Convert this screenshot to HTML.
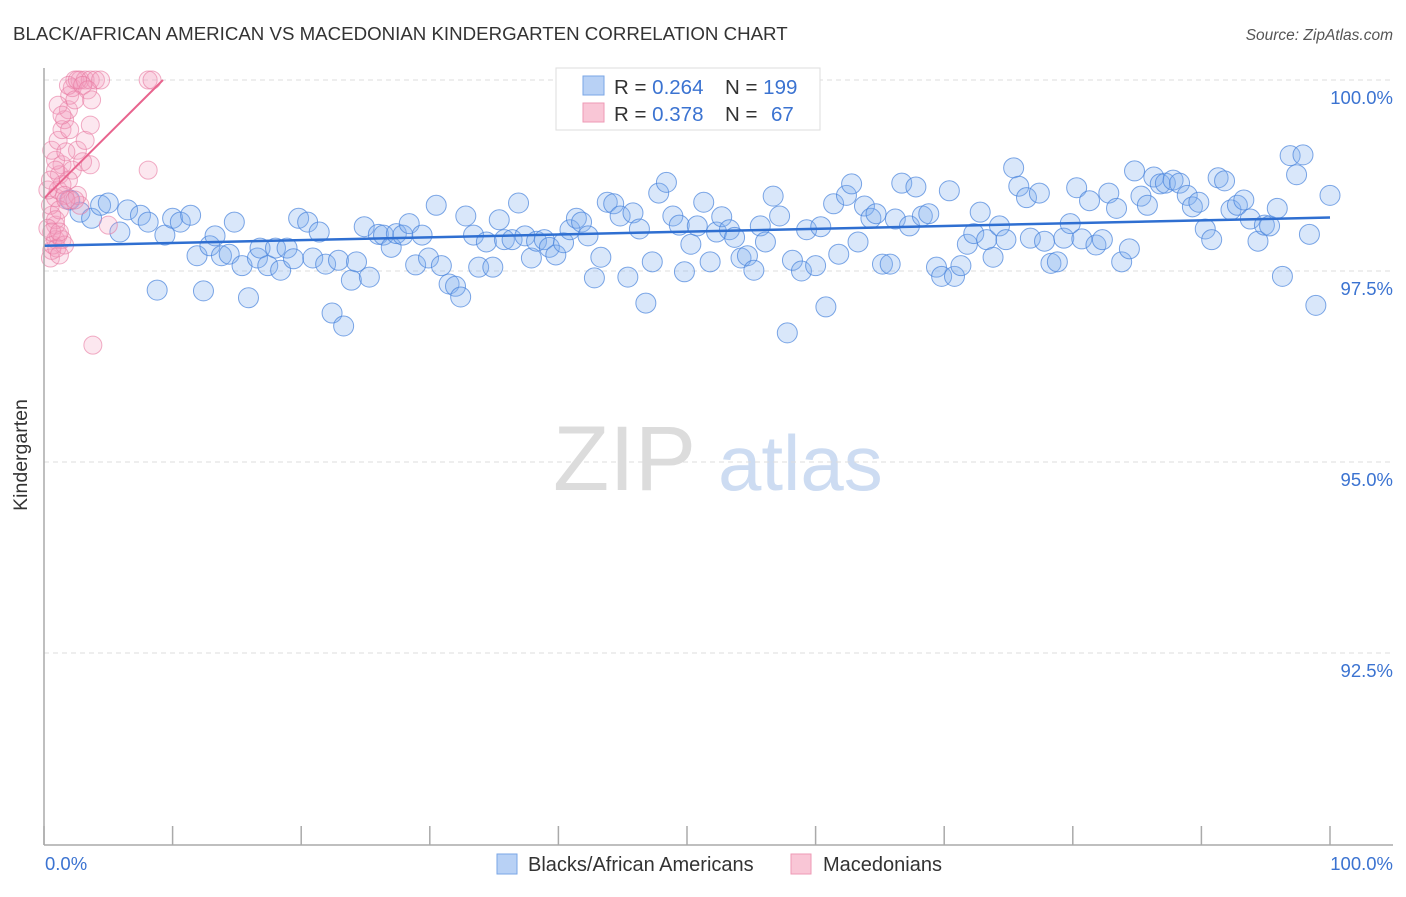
<!DOCTYPE html>
<html><head><meta charset="utf-8"><style>
body{margin:0;background:#fff;font-family:"Liberation Sans",sans-serif;}
svg text{font-family:"Liberation Sans",sans-serif;}
</style></head><body>
<svg id="chart" width="1406" height="892">
<text x="13" y="40" font-size="18.7" fill="#333">BLACK/AFRICAN AMERICAN VS MACEDONIAN KINDERGARTEN CORRELATION CHART</text>
<text x="1393" y="40" font-size="15.5" fill="#555" text-anchor="end" font-style="italic">Source: ZipAtlas.com</text>
<text x="553" y="490" font-size="92" fill="#dcdcdc" font-family="Liberation Serif">ZIP</text>
<text x="718" y="490" font-size="78" fill="#cddcf2">atlas</text>
<g id="grid"></g>
<g id="pts"></g>
<g id="trend"></g>
<line x1="44" y1="68" x2="44" y2="845" stroke="#aaa" stroke-width="1.5"/>
<line x1="44" y1="845" x2="1393" y2="845" stroke="#aaa" stroke-width="1.5"/>
<text x="27" y="455" font-size="19.5" fill="#333" text-anchor="middle" transform="rotate(-90 27 455)">Kindergarten</text>
<text x="45" y="870" font-size="18.5" fill="#3b73d1">0.0%</text>
<text x="1393" y="870" font-size="18.5" fill="#3b73d1" text-anchor="end">100.0%</text>
<g>
<rect x="556" y="68" width="264" height="62" fill="#fff" stroke="#ddd"/>
<rect x="583" y="76" width="21" height="19" fill="#b8d1f5" stroke="#7aa6e6"/>
<rect x="583" y="103" width="21" height="19" fill="#f9c6d6" stroke="#ee9ab5"/>
<text x="614" y="94" font-size="20.5" fill="#333">R = <tspan fill="#3b73d1">0.264</tspan><tspan x="725">N = </tspan><tspan fill="#3b73d1">199</tspan></text>
<text x="614" y="121" font-size="20.5" fill="#333">R = <tspan fill="#3b73d1">0.378</tspan><tspan x="725">N = </tspan><tspan x="771" fill="#3b73d1">67</tspan></text>
</g>
<g>
<rect x="497" y="854" width="20" height="20" fill="#b8d1f5" stroke="#7aa6e6"/>
<text x="528" y="871" font-size="20" fill="#333">Blacks/African Americans</text>
<rect x="791" y="854" width="20" height="20" fill="#f9c6d6" stroke="#ee9ab5"/>
<text x="823" y="871" font-size="20" fill="#333">Macedonians</text>
</g>
</svg>
<script>
const yTicks=[100,97.5,95,92.5];
const yTickLabels=["100.0%","97.5%","95.0%","92.5%"];
const xTicks=[0,10,20,30,40,50,60,70,80,90,100];
const blueX=[2.0,2.8,3.7,4.4,5.0,5.9,6.5,7.5,8.1,8.8,9.4,10.0,10.6,11.4,11.9,12.4,12.9,13.3,13.8,14.4,14.8,15.4,15.9,16.6,16.8,17.4,18.0,18.4,18.9,19.4,19.8,20.5,20.9,21.4,21.9,22.4,22.9,23.3,23.9,24.3,24.9,25.3,26.0,26.4,27.0,27.4,27.9,28.4,28.9,29.4,29.9,30.5,30.9,31.5,32.0,32.4,32.8,33.4,33.8,34.4,34.9,35.4,35.8,36.4,36.9,37.4,37.9,38.3,38.9,39.3,39.8,40.4,40.9,41.4,41.8,42.3,42.8,43.3,43.8,44.3,44.8,45.4,45.8,46.3,46.8,47.3,47.8,48.4,48.9,49.4,49.8,50.3,50.8,51.3,51.8,52.3,52.7,53.3,53.7,54.2,54.7,55.2,55.7,56.1,56.7,57.2,57.8,58.2,58.9,59.3,60.0,60.4,60.8,61.4,61.8,62.4,62.8,63.3,63.8,64.3,64.7,65.2,65.8,66.2,66.7,67.3,67.8,68.3,68.8,69.4,69.8,70.4,70.8,71.3,71.8,72.3,72.8,73.3,73.8,74.3,74.8,75.4,75.8,76.4,76.7,77.4,77.8,78.3,78.8,79.3,79.8,80.3,80.7,81.3,81.8,82.3,82.8,83.4,83.8,84.4,84.8,85.3,85.8,86.3,86.8,87.2,87.8,88.3,88.9,89.3,89.8,90.3,90.8,91.3,91.8,92.3,92.8,93.3,93.8,94.4,94.9,95.3,95.9,96.3,96.9,97.4,97.9,98.4,98.9,100.0];
const blueY=[98.43,98.27,98.19,98.36,98.39,98.01,98.30,98.23,98.14,97.25,97.97,98.19,98.14,98.23,97.70,97.24,97.83,97.96,97.70,97.72,98.14,97.57,97.15,97.67,97.80,97.57,97.80,97.51,97.80,97.66,98.19,98.14,97.67,98.01,97.59,96.95,97.64,96.78,97.38,97.62,98.08,97.42,97.98,97.97,97.81,97.99,97.97,98.12,97.58,97.97,97.67,98.36,97.57,97.33,97.30,97.16,98.22,97.97,97.55,97.88,97.55,98.17,97.91,97.91,98.39,97.96,97.67,97.89,97.91,97.81,97.71,97.87,98.04,98.19,98.14,97.96,97.41,97.68,98.40,98.38,98.22,97.42,98.26,98.05,97.08,97.62,98.52,98.66,98.22,98.10,97.49,97.85,98.09,98.40,97.62,98.01,98.21,98.04,97.94,97.67,97.70,97.51,98.09,97.88,98.48,98.22,96.69,97.64,97.50,98.04,97.57,98.08,97.03,98.38,97.72,98.49,98.64,97.88,98.35,98.19,98.25,97.59,97.59,98.18,98.65,98.09,98.60,98.22,98.25,97.55,97.43,98.55,97.43,97.57,97.85,97.99,98.27,97.91,97.68,98.09,97.91,98.85,98.61,98.46,97.93,98.52,97.89,97.60,97.62,97.93,98.12,98.59,97.92,98.42,97.84,97.91,98.52,98.32,97.62,97.79,98.81,98.48,98.36,98.73,98.64,98.65,98.69,98.65,98.49,98.34,98.40,98.05,97.91,98.72,98.68,98.30,98.36,98.43,98.18,97.89,98.10,98.09,98.32,97.43,99.01,98.76,99.02,97.98,97.05,98.49];
const pinkX=[0.5,0.6,0.7,0.9,1.0,1.1,0.9,0.6,0.5,0.9,1.1,1.2,1.4,0.9,0.6,1.1,1.4,1.6,1.9,2.0,2.2,2.4,2.8,3.2,3.6,4.0,4.4,1.9,2.6,3.0,3.4,2.4,2.0,2.6,3.0,3.6,2.2,1.9,1.4,1.6,2.0,2.8,2.6,1.2,0.9,1.4,1.6,1.2,8.1,8.4,8.1,3.8,0.3,0.6,1.2,1.7,2.4,5.0,3.2,1.1,1.4,3.7,3.6,1.7,0.9,0.3,0.5];
const pinkY=[97.67,97.77,97.84,97.91,97.80,97.97,98.10,98.23,98.36,98.46,98.56,98.76,98.89,98.95,99.08,99.21,99.35,99.48,99.61,99.80,99.90,100,100,100,100,100,100,99.93,100,99.93,99.87,99.74,99.35,99.08,98.93,98.89,98.82,98.69,98.63,98.49,98.43,98.36,98.49,98.30,98.17,97.91,97.84,97.71,100,100,98.82,96.53,98.06,98.01,98.01,98.43,98.43,98.10,99.21,99.67,99.54,99.74,99.41,99.06,98.82,98.56,98.69];
const blueTrendX=[0,100];
const blueTrendY=[97.83,98.20];
const pinkTrendX=[0,9.25];
const pinkTrendY=[98.45,100];

const NS="http://www.w3.org/2000/svg";
const sx=v=>44+v*12.86;
const sy=v=>80+(100-v)*76.4;
function mk(t,a,p){const e=document.createElementNS(NS,t);for(const k in a)e.setAttribute(k,a[k]);p.appendChild(e);return e;}
const grid=document.getElementById('grid'),pts=document.getElementById('pts'),tr=document.getElementById('trend'),svg=document.getElementById('chart');
yTicks.forEach((t,i)=>{
 const l=mk('line',{x1:44,x2:1393,y1:sy(t),y2:sy(t),stroke:'#ddd','stroke-dasharray':'5,4'},grid);
 
 
 const tx=mk('text',{x:1393,y:sy(t)+24,'font-size':18.5,fill:'#3b73d1','text-anchor':'end'},svg);
 tx.textContent=yTickLabels[i];
 
 
});
xTicks.forEach(t=>{
 const l=mk('line',{x1:sx(t),x2:sx(t),y1:826,y2:845,stroke:'#aaa','stroke-width':1.5},grid);
 
 
});
blueX.forEach((x,i)=>{
 const c=mk('circle',{cx:sx(x),cy:sy(blueY[i]),r:10,fill:'rgba(130,175,240,0.3)',stroke:'rgba(70,130,220,0.7)','stroke-width':1},pts);
 
 
});
pinkX.forEach((x,i)=>{
 const c=mk('circle',{cx:sx(x),cy:sy(pinkY[i]),r:9,fill:'rgba(245,160,190,0.25)',stroke:'rgba(232,120,160,0.6)','stroke-width':1},pts);
 
 
});
const bl=mk('line',{x1:sx(blueTrendX[0]),y1:sy(blueTrendY[0]),x2:sx(blueTrendX[1]),y2:sy(blueTrendY[1]),stroke:'#2f6fd1','stroke-width':2.5},tr);


const pl=mk('line',{x1:sx(pinkTrendX[0]),y1:sy(pinkTrendY[0]),x2:sx(pinkTrendX[1]),y2:sy(pinkTrendY[1]),stroke:'#e8648e','stroke-width':2},tr);


</script>
</body></html>
